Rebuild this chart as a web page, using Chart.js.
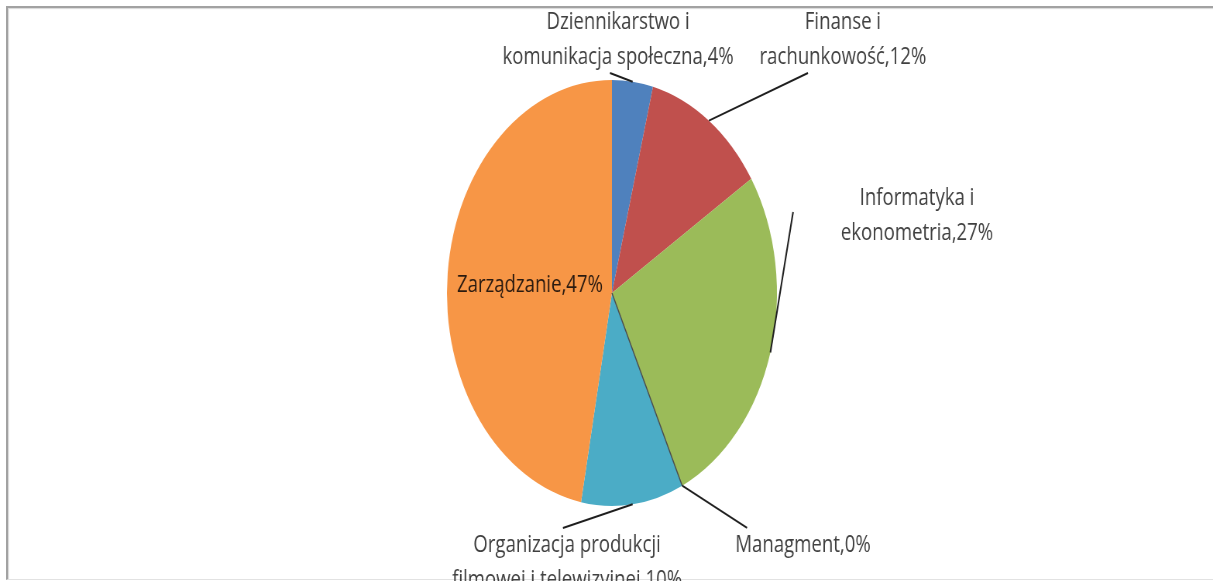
<!DOCTYPE html>
<html><head><meta charset="utf-8">
<script src="https://cdn.jsdelivr.net/npm/chart.js@4.4.1/dist/chart.umd.min.js"></script>
<style>
html,body{margin:0;padding:0;background:#fff;overflow:hidden;width:1213px;height:581px;}
#frame{position:absolute;left:6px;top:6px;width:1215px;height:571px;border-top:2px solid #a2a2a2;border-left:2px solid #a2a2a2;border-bottom:1px solid #e2e2e2;box-shadow:inset 1px 1px 1px #d8d8d8;}
#wrap{position:absolute;left:0;top:0;width:1566px;height:581px;transform:scaleX(0.7746);transform-origin:0 0;}
canvas{display:block;}
</style></head><body>
<div id="frame"></div>
<div id="wrap"><canvas id="c" width="1566" height="581"></canvas></div>
<script>
// ---- data ----
const categories = [
  'Dziennikarstwo i komunikacja społeczna',
  'Finanse i rachunkowość',
  'Informatyka i ekonometria',
  'Managment',
  'Organizacja produkcji filmowej i telewizyjnej',
  'Zarządzanie'
];
const values = [4, 12, 27, 0, 10, 47];
const labelNameLines = [
  ['Dziennikarstwo i', 'komunikacja społeczna'],
  ['Finanse i', 'rachunkowość'],
  ['Informatyka i', 'ekonometria'],
  ['Managment'],
  ['Organizacja produkcji', 'filmowej i telewizyjnej'],
  ['Zarządzanie']
];
const sliceColors = ['#4F81BD', '#C0504D', '#9BBB59', '#8064A2', '#4BACC6', '#F79646'];

// label placement (in units of the pie radius, relative to the pie centre)
const labelPlacement = [
  {at: [0.037, -1.19], leader: [-0.012, -1.033]},
  {at: [1.40, -1.19],  leader: [1.188, -1.033]},
  {at: [1.849, -0.364], leader: [1.098, -0.380]},
  {at: [1.158, 1.183], leader: [0.819, 1.103]},
  {at: [-0.272, 1.265], leader: [-0.297, 1.103]},
  {at: [-0.497, -0.038], leader: null, inside: true}
];

const labelTexts = labelNameLines.map((lines, i) => {
  const out = lines.slice();
  out[out.length - 1] = out[out.length - 1] + ',' + values[i] + '%';
  return out;
});

const calloutPlugin = {
  id: 'callouts',
  afterDatasetsDraw(chart) {
    const ctx = chart.ctx;
    const meta = chart.getDatasetMeta(0);
    ctx.save();
    meta.data.forEach((arc, i) => {
      const p = arc.getProps(['x', 'y', 'startAngle', 'endAngle', 'outerRadius'], true);
      const r = p.outerRadius;
      const mid = (p.startAngle + p.endAngle) / 2;
      const ax = p.x + Math.cos(mid) * r;
      const ay = p.y + Math.sin(mid) * r;
      if (values[i] === 0) {
        ctx.strokeStyle = '#4a4a4a';
        ctx.lineWidth = 1.4;
        ctx.beginPath();
        ctx.moveTo(p.x, p.y);
        ctx.lineTo(ax, ay);
        ctx.stroke();
      }
      const lp = labelPlacement[i];
      if (lp.leader) {
        ctx.strokeStyle = '#1e1e1e';
        ctx.lineWidth = 2;
        ctx.beginPath();
        ctx.moveTo(ax, ay);
        ctx.lineTo(p.x + lp.leader[0] * r, p.y + lp.leader[1] * r);
        ctx.stroke();
      }
      const lines = labelTexts[i];
      const cx = p.x + lp.at[0] * r;
      const cy = p.y + lp.at[1] * r;
      const lh = 35;
      ctx.font = '24px "Open Sans", sans-serif';
      ctx.fillStyle = lp.inside ? '#2a1a10' : '#404040';
      ctx.textAlign = 'center';
      ctx.textBaseline = 'middle';
      lines.forEach((t, k) => {
        ctx.fillText(t, cx, cy + (k - (lines.length - 1) / 2) * lh);
      });
    });
    ctx.restore();
  }
};

new Chart(document.getElementById('c'), {
  type: 'pie',
  data: {
    labels: categories,
    datasets: [{
      data: values,
      backgroundColor: sliceColors,
      borderWidth: 0
    }]
  },
  options: {
    responsive: false,
    animation: false,
    layout: {padding: {top: 80, bottom: 75, left: 490, right: 476}},
    plugins: {legend: {display: false}, tooltip: {enabled: false}}
  },
  plugins: [calloutPlugin]
});
</script>
</body></html>
